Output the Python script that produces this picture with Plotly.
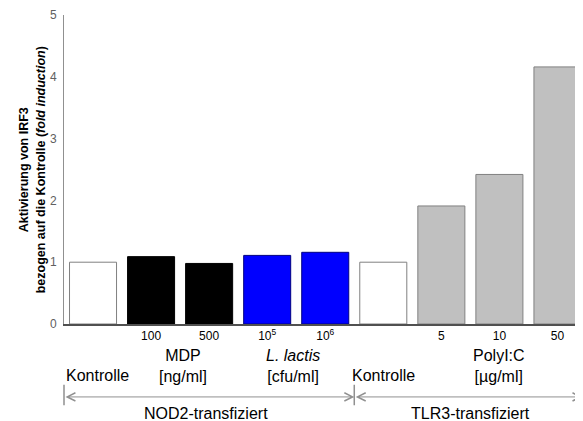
import plotly.graph_objects as go

# ---- data ----
bar_ids = ["Kontrolle NOD2", "MDP 100", "MDP 500", "L. lactis 1e5", "L. lactis 1e6",
           "Kontrolle TLR3", "PolyI:C 5", "PolyI:C 10", "PolyI:C 50"]
values = [1.00, 1.09, 0.98, 1.11, 1.16, 1.00, 1.91, 2.42, 4.16]
tick_text = ["", "100", "500", "10<sup>5</sup>", "10<sup>6</sup>", "", "5", "10", "50"]
fill_colors = ["#FFFFFF", "#000000", "#000000", "#0000FF", "#0000FF",
               "#FFFFFF", "#C0C0C0", "#C0C0C0", "#C0C0C0"]
line_colors = ["#808080", "#000000", "#000000", "#000080", "#000080",
               "#808080", "#808080", "#808080", "#808080"]
y_ticks = [0, 1, 2, 3, 4, 5]

FONT = "Liberation Sans, Arial, sans-serif"
xpos = list(range(len(values)))
x_range = [-0.5, 8.44]

fig = go.Figure()
fig.add_trace(go.Bar(
    x=xpos, y=values,
    marker=dict(color=fill_colors, line=dict(color=line_colors, width=1)),
    hoverinfo="skip",
))

LBL = dict(size=16, color="#000", family=FONT)
ann = []
# group labels (x in data, y in paper below plot)
ann.append(dict(x=-0.5, y=-0.168, xref="x", yref="paper", text="Kontrolle",
                showarrow=False, xanchor="left", yanchor="middle", font=LBL))
ann.append(dict(x=1.55, y=-0.136, xref="x", yref="paper", text="MDP<br>[ng/ml]",
                showarrow=False, xanchor="center", yanchor="middle", font=LBL))
ann.append(dict(x=3.45, y=-0.136, xref="x", yref="paper", text="<i>L. lactis</i><br>[cfu/ml]",
                showarrow=False, xanchor="center", yanchor="middle", font=LBL))
ann.append(dict(x=5.0, y=-0.168, xref="x", yref="paper", text="Kontrolle",
                showarrow=False, xanchor="center", yanchor="middle", font=LBL))
ann.append(dict(x=7.0, y=-0.136, xref="x", yref="paper", text="PolyI:C<br>[µg/ml]",
                showarrow=False, xanchor="center", yanchor="middle", font=LBL))
ann.append(dict(x=1.95, y=-0.29, xref="x", yref="paper", text="NOD2-transfiziert",
                showarrow=False, xanchor="center", yanchor="middle", font=LBL))
ann.append(dict(x=6.5, y=-0.29, xref="x", yref="paper", text="TLR3-transfiziert",
                showarrow=False, xanchor="center", yanchor="middle", font=LBL))

# bracket arrows
for (a, b) in [(-0.5, 4.5), (4.5, 8.43)]:
    ann.append(dict(x=b, y=-0.236, ax=a, ay=0, xref="x", yref="paper", axref="x", ayref="pixel",
                    text="", showarrow=True, arrowside="end+start",
                    arrowhead=5, startarrowhead=5, arrowsize=1.6, startarrowsize=1.6,
                    arrowwidth=1, arrowcolor="#909090", standoff=0, startstandoff=0))
# vertical separators
for a in [-0.5, 4.5]:
    ann.append(dict(x=a, y=-0.197, ax=0, ay=22, xref="x", yref="paper", axref="pixel", ayref="pixel",
                    text="", showarrow=True, arrowhead=0, arrowwidth=1.5,
                    arrowcolor="#909090", standoff=0, startstandoff=0))

# y-axis title
ann.append(dict(x=-0.062, y=0.5, xref="paper", yref="paper",
                text="<b>Aktivierung von IRF3<br>bezogen auf die Kontrolle (<i>fold induction</i>)</b>",
                textangle=-90, showarrow=False, xanchor="center", yanchor="middle",
                font=dict(size=12.5, color="#000", family=FONT)))

fig.update_layout(
    width=575, height=413,
    margin=dict(l=56, r=0, t=7, b=97),
    paper_bgcolor="white", plot_bgcolor="white",
    showlegend=False,
    bargap=0.19,
    font=dict(family=FONT),
    annotations=ann,
    xaxis=dict(range=x_range, tickmode="array", tickvals=xpos, ticktext=tick_text,
               showgrid=False, zeroline=False, showline=True, linecolor="#505050",
               linewidth=1.5, ticks="", tickfont=dict(size=12, color="#000", family=FONT)),
    yaxis=dict(range=[0, 5], tickmode="array", tickvals=y_ticks,
               showgrid=False, zeroline=False, showline=True, linecolor="#909090",
               linewidth=1, ticks="", ticklen=0, ticklabelstandoff=4,
               tickfont=dict(size=12, color="#606060", family=FONT)),
)

fig.write_html("out.html")
